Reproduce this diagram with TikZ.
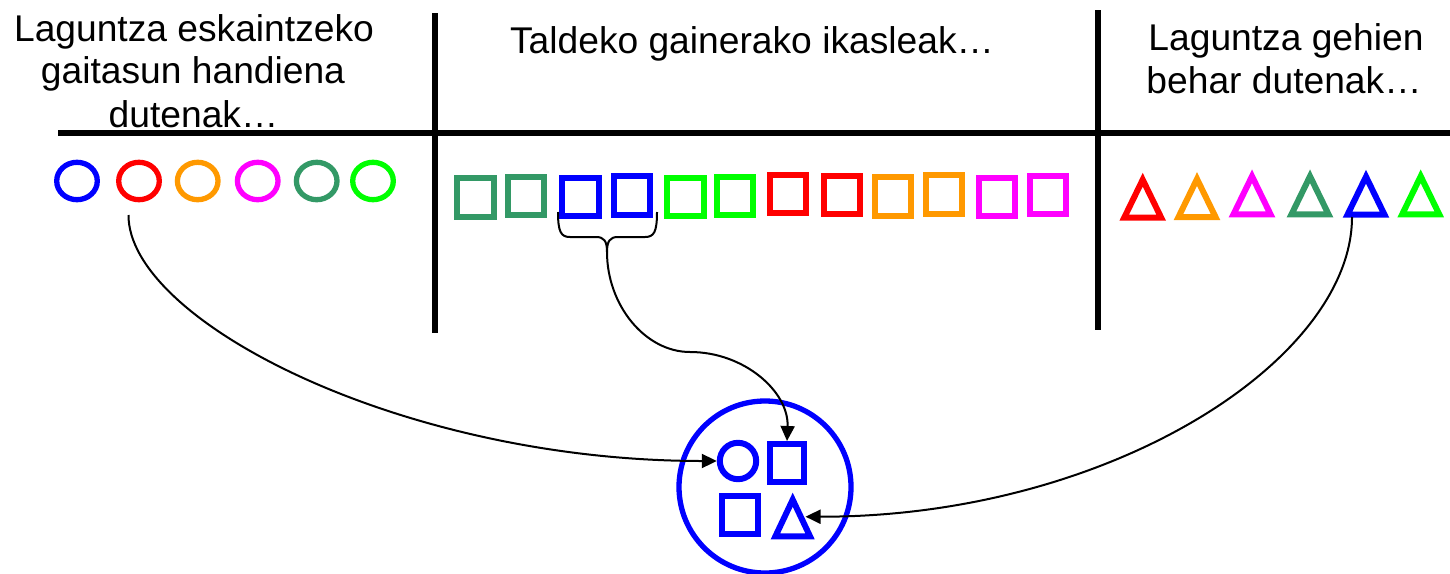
\documentclass[tikz,border=0pt]{standalone}
\usepackage{fontspec}
\setmainfont{Liberation Sans}
\usetikzlibrary{arrows.meta,shapes.geometric}
\definecolor{cblue}{HTML}{0000FF}
\definecolor{cred}{HTML}{FF0000}
\definecolor{corange}{HTML}{FF9900}
\definecolor{cmagenta}{HTML}{FF00FF}
\definecolor{cgreen}{HTML}{339966}
\definecolor{clime}{HTML}{00FF00}
\begin{document}
\begin{tikzpicture}[x=0.5pt,y=-0.5pt,
  lbl/.style={anchor=base,inner sep=0pt,font=\fontsize{18.6pt}{21.7pt}\selectfont},
  divider/.style={line width=3pt},
  ring/.style={draw=#1,ellipse,line width=2.65pt,minimum width=20.3pt,minimum height=18.7pt,inner sep=0pt},
  box/.style={draw=#1,rectangle,line width=3pt,minimum width=18.35pt,minimum height=19.25pt,inner sep=0pt},
  tri/.style={draw=#1,line width=3pt,line join=miter},
  conn/.style={line width=1pt,-{Triangle[length=7.5pt,width=7pt]}},
  bracestyle/.style={line width=1pt}]
\useasboundingbox (0,0) rectangle (1450,573);

% headings
\node[lbl] (h1a) at (194,41) {Laguntza eskaintzeko};
\node[lbl] (h1b) at (193,83) {gaitasun handiena};
\node[lbl] (h1c) at (193.5,127) {dutenak…};
\node[lbl] (h2) at (752,54) {Taldeko gainerako ikasleak…};
\node[lbl] (h3a) at (1286,50) {Laguntza gehien};
\node[lbl] (h3b) at (1284,93) {behar dutenak…};

% dividers
\draw[divider] (58,132.5) -- (1450,132.5);
\draw[divider] (434.7,13) -- (434.7,332.5);
\draw[divider] (1098.3,10) -- (1098.3,330);

% circles
\node[ring=cblue] (c1) at (77,181) {};
\node[ring=cred] (c2) at (139,181) {};
\node[ring=corange] (c3) at (197.7,181) {};
\node[ring=cmagenta] (c4) at (257.7,181) {};
\node[ring=cgreen] (c5) at (316.7,181) {};
\node[ring=clime] (c6) at (373,181) {};

% squares
\node[box=cgreen] (s1) at (475.3,197.5) {};
\node[box=cgreen] (s2) at (526,195.8) {};
\node[box=cblue] (s3) at (580.5,197) {};
\node[box=cblue] (s4) at (632,195.5) {};
\node[box=clime] (s5) at (685.5,197) {};
\node[box=clime] (s6) at (735,195.8) {};
\node[box=cred] (s7) at (788,194) {};
\node[box=cred] (s8) at (842,195) {};
\node[box=corange] (s9) at (893,196.5) {};
\node[box=corange] (s10) at (944,194.7) {};
\node[box=cmagenta] (s11) at (997,197) {};
\node[box=cmagenta] (s12) at (1048,195) {};

% triangles
\draw[tri=cred] (1142.7,217.7) ++(-18.5,0) -- ++(18.5,-38) -- ++(18.5,38) -- cycle;
\draw[tri=corange] (1197,217) ++(-18.5,0) -- ++(18.5,-38) -- ++(18.5,38) -- cycle;
\draw[tri=cmagenta] (1252,214.3) ++(-18.5,0) -- ++(18.5,-38) -- ++(18.5,38) -- cycle;
\draw[tri=cgreen] (1310,214.3) ++(-18.5,0) -- ++(18.5,-38) -- ++(18.5,38) -- cycle;
\draw[tri=cblue] (1366,214.7) ++(-18.5,0) -- ++(18.5,-38) -- ++(18.5,38) -- cycle;
\draw[tri=clime] (1420.7,214.3) ++(-18.5,0) -- ++(18.5,-38) -- ++(18.5,38) -- cycle;

% brace under the two blue squares
\draw[bracestyle] (558,212) .. controls (558,232) and (561,237) .. (570,237) -- (596,237)
  .. controls (604,237) and (607,241) .. (607,252)
  .. controls (607,241) and (610,237) .. (618,237) -- (645,237)
  .. controls (654,237) and (657,232) .. (657,212);

% group
\node[draw=cblue,circle,line width=2.65pt,minimum size=86pt,inner sep=0pt] (grp) at (765,487) {};
\node[draw=cblue,circle,line width=3pt,minimum size=18.2pt,inner sep=0pt] (gc) at (738,461) {};
\node[box=cblue,minimum width=16.7pt,minimum height=19pt] (gs1) at (787,463) {};
\node[box=cblue,minimum width=17.8pt,minimum height=18.7pt] (gs2) at (740,515) {};
\draw[tri=cblue] (775.4,536.3) -- (792.7,499.7) -- (810,536.3) -- cycle;

% connector ends
\coordinate (rs) at (128.5,215);
\coordinate (bt) at (607,252);
\coordinate (ts) at (1352,217);
\coordinate (gt) at (805.5,516.7);

% connectors
\draw[conn] (rs) .. controls (128,320) and (400,461) .. (gc.west);
\draw[conn] (bt) .. controls (607,305) and (645,352) .. (690,352)
  .. controls (744.6,352) and (789,392) .. (gs1.north);
\draw[conn] (ts) .. controls (1352,360) and (1110,517) .. (gt);
\end{tikzpicture}
\end{document}
